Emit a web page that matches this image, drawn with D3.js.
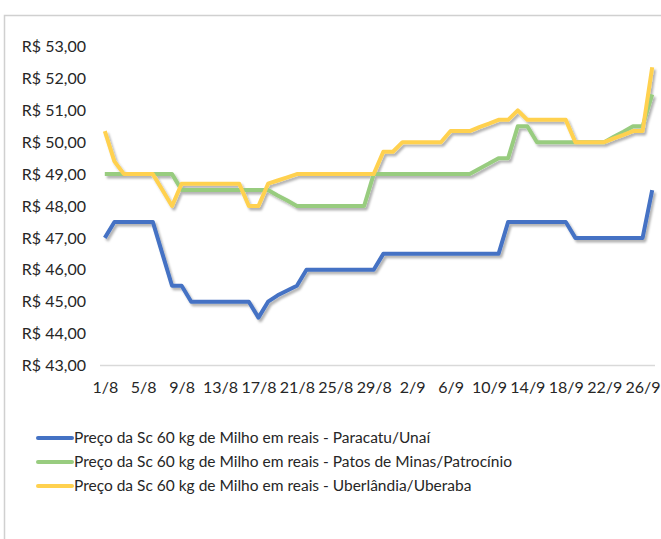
<!DOCTYPE html>
<html>
<head>
<meta charset="utf-8">
<script src="https://cdn.jsdelivr.net/npm/d3@7"></script>
<style>
  body { margin: 0; background: #fff; }
  text { font-family: Lato, "Liberation Sans", sans-serif; fill: #262626; }
</style>
</head>
<body>
<svg id="chart" width="661" height="539"></svg>
<script>
'use strict'

// dias (1/8 a 27/9)
var dates = ['1/8','2/8','3/8','4/8','5/8','6/8','7/8','8/8','9/8','10/8','11/8','12/8','13/8','14/8','15/8','16/8',
  '17/8','18/8','19/8','20/8','21/8','22/8','23/8','24/8','25/8','26/8','27/8','28/8','29/8','30/8','31/8',
  '1/9','2/9','3/9','4/9','5/9','6/9','7/9','8/9','9/9','10/9','11/9','12/9','13/9','14/9','15/9','16/9',
  '17/9','18/9','19/9','20/9','21/9','22/9','23/9','24/9','25/9','26/9','27/9']

var paracatu = [47,47.5,47.5,47.5,47.5,47.5,46.5,45.5,45.5,45,45,45,45,45,45,45,
  44.5,45,45.2,45.35,45.5,46,46,46,46,46,46,46,46,46.5,46.5,
  46.5,46.5,46.5,46.5,46.5,46.5,46.5,46.5,46.5,46.5,46.5,47.5,47.5,47.5,47.5,47.5,
  47.5,47.5,47,47,47,47,47,47,47,47,48.5]

var patos = [49,49,49,49,49,49,49,49,48.5,48.5,48.5,48.5,48.5,48.5,48.5,48.5,
  48.5,48.5,48.33,48.17,48,48,48,48,48,48,48,48,49,49,49,
  49,49,49,49,49,49,49,49,49.17,49.33,49.5,49.5,50.5,50.5,50,50,
  50,50,50,50,50,50,50.17,50.33,50.5,50.5,51.5]

var uberlandia = [50.35,49.4,49,49,49,49,48.5,48,48.7,48.7,48.7,48.7,48.7,48.7,48.7,48,
  48,48.7,48.8,48.9,49,49,49,49,49,49,49,49,49,49.7,49.7,
  50,50,50,50,50,50.35,50.35,50.35,50.47,50.58,50.7,50.7,51,50.7,50.7,50.7,
  50.7,50.7,50,50,50,50,50.12,50.23,50.35,50.35,52.35]

var yTicks = [43,44,45,46,47,48,49,50,51,52,53]

var series = [
  {name: 'Preço da Sc 60 kg de Milho em reais - Paracatu/Unaí', values: paracatu, color: '#4472c4'},
  {name: 'Preço da Sc 60 kg de Milho em reais - Patos de Minas/Patrocínio', values: patos, color: '#98cc7f'},
  {name: 'Preço da Sc 60 kg de Milho em reais - Uberlândia/Uberaba', values: uberlandia, color: '#ffd14f'}
]

var svg = d3.select('#chart')

// moldura
svg.append('rect')
  .attr('x', 4.5).attr('y', 15.5)
  .attr('width', 700).attr('height', 600)
  .attr('fill', 'none')
  .attr('stroke', '#d0d0d0')
  .attr('stroke-width', 1.5)

var defs = svg.append('defs')
var f = defs.append('filter').attr('id', 'sombra')
  .attr('x', '-5%').attr('y', '-5%').attr('width', '115%').attr('height', '115%')
f.append('feDropShadow')
  .attr('dx', 2).attr('dy', 2.5)
  .attr('stdDeviation', 1.3)
  .attr('flood-color', '#000')
  .attr('flood-opacity', 0.3)

var x = d3.scalePoint()
  .domain(dates)
  .range([100, 657])
  .padding(0.5)

var y = d3.scaleLinear()
  .domain([43, 53])
  .range([365.5, 46.5])

// linha base
svg.append('line')
  .attr('x1', 100).attr('x2', 655)
  .attr('y1', y(43)).attr('y2', y(43))
  .attr('stroke', '#d9d9d9')
  .attr('stroke-width', 1.5)

var fmt = d3.format('.2f')
var yAxis = svg.append('g')
  .attr('transform', 'translate(86,0)')
  .call(d3.axisLeft(y).tickValues(yTicks).tickSize(0).tickPadding(0)
    .tickFormat(d => 'R$ ' + fmt(d).replace('.', ',')))
yAxis.select('.domain').remove()
yAxis.selectAll('text').style('font-size', '16px').attr('fill', '#262626')

var xAxis = svg.append('g')
  .attr('transform', 'translate(0,' + y(43) + ')')
  .call(d3.axisBottom(x).tickValues(dates.filter((d, i) => i % 4 == 0)).tickSize(0).tickPadding(16))
xAxis.select('.domain').remove()
xAxis.selectAll('text').style('font-size', '16px').attr('fill', '#262626')

var line = d3.line()
  .x((d, i) => x(dates[i]))
  .y(d => y(d))

svg.append('g').attr('filter', 'url(#sombra)')
  .selectAll('path')
  .data(series)
  .enter()
    .append('path')
    .attr('d', d => line(d.values))
    .attr('fill', 'none')
    .attr('stroke', d => d.color)
    .attr('stroke-width', 4)
    .attr('stroke-linejoin', 'round')

// legenda
var leg = svg.append('g').selectAll('g')
  .data(series)
  .enter()
    .append('g')
    .attr('transform', (d, i) => 'translate(38,' + (438 + i * 24) + ')')

leg.append('line')
  .attr('x1', 0).attr('x2', 34)
  .attr('stroke', d => d.color)
  .attr('stroke-width', 4)
  .attr('stroke-linecap', 'round')

leg.append('text')
  .attr('x', 36)
  .attr('dy', '0.35em')
  .style('font-size', '15.5px')
  .text(d => d.name)
</script>
</body>
</html>
